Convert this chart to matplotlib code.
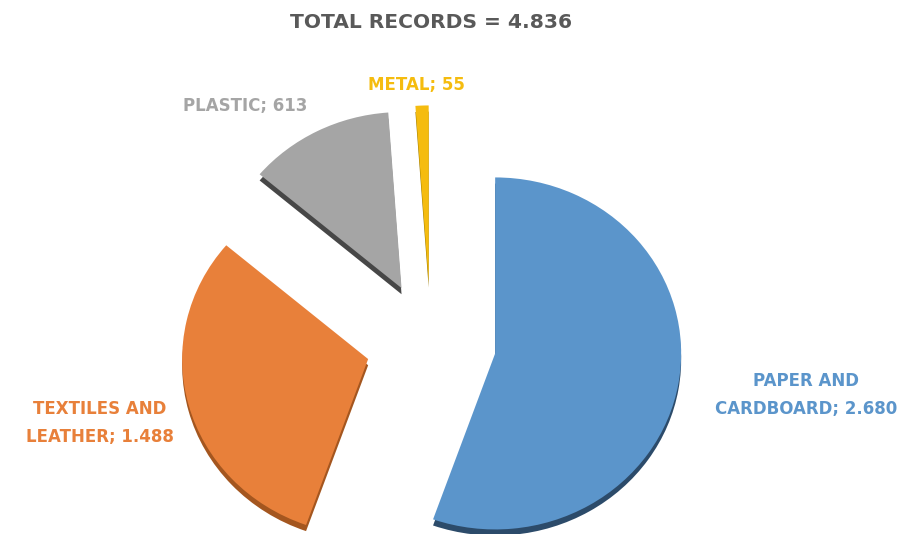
import matplotlib.pyplot as plt

labels = ['PAPER AND\nCARDBOARD', 'TEXTILES AND\nLEATHER', 'PLASTIC', 'METAL']
values = [2680, 1488, 613, 55]
colors = ['#5B95CB', '#E8803A', '#A5A5A5', '#F5BC0F']
dark = ['#2C4B6A', '#A4561F', '#474747', '#9C7A00']
shown = ['2.680', '1.488', '613', '55']
total = '4.836'

W, H = 902, 534
cx, cy = 431, 343      # pie centre in pixels
rx, ry = 186, 176      # radii in pixels (slight tilt)

fig = plt.figure(figsize=(W / 100, H / 100), dpi=100)
ax = fig.add_axes([0, 0, 1, 1])

expl = [0.35] * len(values)
# extruded side, drawn a little lower and darker
ax.pie(values, colors=dark, startangle=90, counterclock=False,
       explode=expl, center=(0, -0.035), radius=1)
ax.pie(values, colors=colors, startangle=90, counterclock=False,
       explode=expl, center=(0, 0), radius=1)

ax.set_aspect('auto')
ax.set_xlim(-cx / rx, (W - cx) / rx)
ax.set_ylim((cy - H) / ry, cy / ry)
ax.axis('off')

font = 'DejaVu Sans'


def px(x, y):
    return x / W, 1 - y / H


fig.text(*px(431, 22), 'TOTAL RECORDS = ' + total, ha='center', va='center',
         fontsize=14.6, fontweight='bold', color='#595959', family=font)

pos = [(806, 395), (100, 423), (245, 106), (416, 85)]
for lab, v, c, p in zip(labels, shown, colors, pos):
    fig.text(*px(*p), lab + '; ' + v, ha='center', va='center',
             fontsize=12, fontweight='bold', color=c, family=font,
             linespacing=1.65)

fig.savefig('out.png', dpi=100)
